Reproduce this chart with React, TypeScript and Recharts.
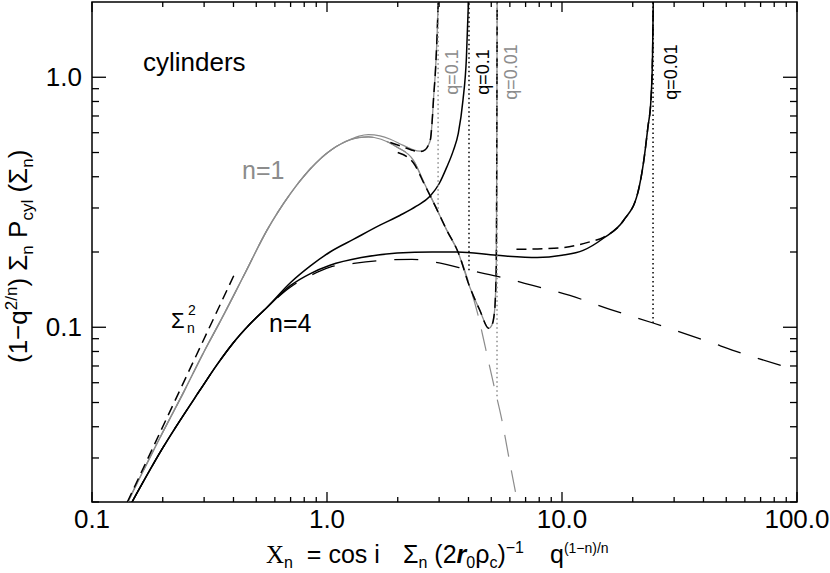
import { LineChart, Line, XAxis, YAxis, ReferenceArea } from "recharts";

type Pt = [number, number];

// ---- data (x = X_n, y = scaled probability) ----
const n1Rise: Pt[] = [
  [0.142, 0.02], [0.2, 0.038], [0.244, 0.0544], [0.3, 0.08], [0.354, 0.107],
  [0.45, 0.166], [0.555, 0.244], [0.62, 0.29], [0.7, 0.343], [0.768, 0.385],
  [0.83, 0.42], [0.9, 0.455], [0.98, 0.49], [1.06, 0.518], [1.15, 0.542], [1.25, 0.562],
];
const n1q01Tail: Pt[] = [
  [1.37, 0.582], [1.5, 0.59], [1.68, 0.583], [1.86, 0.565], [2.1, 0.535], [2.3, 0.515],
  [2.49, 0.506], [2.62, 0.514], [2.7, 0.535], [2.76, 0.57], [2.8, 0.66], [2.84, 0.82],
  [2.9, 1.1], [2.95, 1.6], [2.98, 2.2], [2.99, 2.6],
];
const n1SharedDrop: Pt[] = [
  [1.37, 0.574], [1.5, 0.578], [1.7, 0.565], [1.99, 0.525], [2.33, 0.466], [2.6, 0.375],
  [2.9, 0.303], [3.23, 0.245], [3.61, 0.2],
];
const n1q001End: Pt[] = [
  [4.05, 0.145], [4.47, 0.117], [4.88, 0.099], [5.03, 0.102], [5.13, 0.11],
  [5.2, 0.128], [5.25, 0.174], [5.27, 0.32], [5.285, 0.8], [5.3, 2.6],
];
const n1AsymEnd: Pt[] = [
  [4.05, 0.146], [4.37, 0.114], [4.72, 0.083], [5.1, 0.06], [5.55, 0.0425],
  [6.0, 0.0287], [6.46, 0.02], [6.6, 0.018],
];
const n1q01Approx: Pt[] = [
  [1.86, 0.548], [2.1, 0.527], [2.3, 0.511], [2.49, 0.504], [2.62, 0.513], [2.7, 0.535],
  [2.76, 0.57], [2.8, 0.66], [2.84, 0.82], [2.9, 1.1], [2.95, 1.6], [2.98, 2.2], [2.99, 2.6],
];
const n1q001ApproxStart: Pt[] = [
  [2.0, 0.5], [2.33, 0.455], [2.6, 0.372], [2.9, 0.303], [3.23, 0.245], [3.61, 0.2],
];

const n4Rise: Pt[] = [
  [0.148, 0.02], [0.2, 0.0329], [0.288, 0.056], [0.34, 0.0707], [0.398, 0.0863],
  [0.47, 0.103], [0.555, 0.12],
];
const n4q01Tail: Pt[] = [
  [0.7, 0.151], [0.85, 0.176], [1.03, 0.2], [1.3, 0.225], [1.68, 0.256], [2.04, 0.28],
  [2.4, 0.305], [2.75, 0.335], [3.0, 0.375], [3.23, 0.436], [3.45, 0.51], [3.62, 0.597],
  [3.79, 0.81], [3.92, 1.2], [3.99, 1.9], [4.03, 2.6],
];
const n4q001Flat: Pt[] = [
  [0.7, 0.147], [0.85, 0.164], [1.03, 0.177], [1.4, 0.19], [1.99, 0.198], [2.8, 0.2],
  [3.58, 0.2], [5.27, 0.194], [7.84, 0.19], [10, 0.194], [12.3, 0.203], [15, 0.227],
];
const n4q001Up: Pt[] = [
  [18.3, 0.268], [21, 0.344], [22.3, 0.466], [23.2, 0.631], [23.9, 0.81],
  [24.3, 1.28], [24.45, 2.0], [24.5, 2.6],
];
const n4q001ApproxStart: Pt[] = [
  [6.4, 0.205], [8.3, 0.206], [10, 0.208], [11.6, 0.213], [13, 0.219], [15, 0.229],
];
const n4AsymTail: Pt[] = [
  [0.7, 0.145], [0.85, 0.161], [1.03, 0.174], [1.3, 0.18], [1.7, 0.185], [2.3, 0.187],
  [3.0, 0.181], [4.05, 0.169], [5.6, 0.158], [7.5, 0.147], [10.8, 0.134], [16, 0.118],
  [24.4, 0.104], [40, 0.089], [60, 0.078], [100, 0.0673],
];
const sigmaSq: Pt[] = [[0.1414, 0.02], [0.41, 0.168]];

// vertical asymptotes (dotted)
const qGray01: Pt[] = [[2.97, 0.298], [2.97, 2.6]];
const qBlack01: Pt[] = [[4.02, 0.169], [4.02, 2.6]];
const qGray001: Pt[] = [[5.29, 0.053], [5.29, 2.6]];
const qBlack001: Pt[] = [[24.4, 0.104], [24.4, 2.6]];

const xTicks = [
  0.1, 0.2, 0.3, 0.4, 0.5, 0.6, 0.7, 0.8, 0.9,
  1, 2, 3, 4, 5, 6, 7, 8, 9,
  10, 20, 30, 40, 50, 60, 70, 80, 90, 100,
];
const xMajors = [0.1, 1, 10, 100];
const xMajorLabels = ["0.1", "1.0", "10.0", "100.0"];
const yTicks = [
  0.02, 0.03, 0.04, 0.05, 0.06, 0.07, 0.08, 0.09,
  0.1, 0.2, 0.3, 0.4, 0.5, 0.6, 0.7, 0.8, 0.9, 1,
];
const yMajors = [0.1, 1];
const yMajorLabels = ["0.1", "1.0"];

// ---- layout ----
const W = 830;
const H = 573;
const PLOT_L = 92;
const PLOT_R = 797;
const PLOT_T = 2;
const PLOT_B = 502;
const FONT = "'Liberation Sans', Arial, Helvetica, sans-serif";
const SERIF = "'Liberation Serif', 'Times New Roman', serif";
const GRAY = "#8c8c8c";

const toRows = (pts: Pt[]) => pts.map(([x, y]) => ({ x, y }));

function XTick(props: any) {
  const { x, payload } = props;
  const i = xMajors.indexOf(payload.value);
  const len = i >= 0 ? 10 : 5;
  return (
    <g>
      <line x1={x} x2={x} y1={PLOT_B} y2={PLOT_B - len} stroke="#000" strokeWidth={1.3} />
      <line x1={x} x2={x} y1={PLOT_T} y2={PLOT_T + len} stroke="#000" strokeWidth={1.3} />
      {i >= 0 && (
        <text x={x} y={528} textAnchor="middle" fontSize={26} fontFamily={FONT} fill="#000">
          {xMajorLabels[i]}
        </text>
      )}
    </g>
  );
}

function YTick(props: any) {
  const { y, payload } = props;
  const i = yMajors.indexOf(payload.value);
  const len = i >= 0 ? 14 : 7;
  return (
    <g>
      <line x1={PLOT_L} x2={PLOT_L + len} y1={y} y2={y} stroke="#000" strokeWidth={1.3} />
      <line x1={PLOT_R} x2={PLOT_R - len} y1={y} y2={y} stroke="#000" strokeWidth={1.3} />
      {i >= 0 && (
        <text x={82} y={y + 9} textAnchor="end" fontSize={26} fontFamily={FONT} fill="#000">
          {yMajorLabels[i]}
        </text>
      )}
    </g>
  );
}

function Annotations() {
  const qLabel = (x: number, text: string, color: string) => (
    <text
      x={x}
      y={72}
      transform={`rotate(-90 ${x} 72)`}
      textAnchor="middle"
      fontSize={18}
      fontFamily={FONT}
      fill={color}
    >
      {text}
    </text>
  );
  return (
    <svg
      width={W}
      height={H}
      style={{ position: "absolute", left: 0, top: 0, pointerEvents: "none" }}
    >
      <text x={143} y={71} fontSize={26} fontFamily={FONT} fill="#000">cylinders</text>
      <text x={242} y={179} fontSize={25} fontFamily={FONT} fill={GRAY}>n=1</text>
      <text x={269} y={332} fontSize={25} fontFamily={FONT} fill="#000">n=4</text>
      <text x={171} y={328} fontSize={22} fontFamily={FONT} fill="#000">Σ</text>
      <text x={188} y={315} fontSize={14} fontFamily={FONT} fill="#000">2</text>
      <text x={187} y={333} fontSize={14} fontFamily={FONT} fill="#000">n</text>
      {qLabel(458, "q=0.1", GRAY)}
      {qLabel(489, "q=0.1", "#000")}
      {qLabel(517, "q=0.01", GRAY)}
      {qLabel(677, "q=0.01", "#000")}

      <text
        x={27}
        y={363}
        transform="rotate(-90 27 363)"
        fontSize={26}
        fontFamily={FONT}
        fill="#000"
        style={{ whiteSpace: "pre" }}
      >
        <tspan>(1−q</tspan>
        <tspan dy={-10} fontSize={17}>2/n</tspan>
        <tspan dy={10}>) Σ</tspan>
        <tspan dy={6} fontSize={17}>n</tspan>
        <tspan dy={-6}> P</tspan>
        <tspan dy={6} fontSize={17}>cyl</tspan>
        <tspan dy={-6}> (Σ</tspan>
        <tspan dy={6} fontSize={17}>n</tspan>
        <tspan dy={-6}>)</tspan>
      </text>

      <text y={563} fontSize={25} fontFamily={FONT} fill="#000" style={{ whiteSpace: "pre" }}>
        <tspan x={266} fontFamily={SERIF}>X</tspan>
        <tspan dy={5} fontSize={16}>n</tspan>
        <tspan dy={-5}>  = cos i</tspan>
        <tspan x={403}>Σ</tspan>
        <tspan dy={5} fontSize={16}>n</tspan>
        <tspan dy={-5}> (2</tspan>
        <tspan fontWeight="bold" fontStyle="italic">r</tspan>
        <tspan dy={5} fontSize={16}>0</tspan>
        <tspan dy={-5}>ρ</tspan>
        <tspan dy={5} fontSize={16}>c</tspan>
        <tspan dy={-5}>)</tspan>
        <tspan dy={-10} fontSize={16}>−1</tspan>
        <tspan x={550} dy={10}>q</tspan>
        <tspan dy={-10} fontSize={14}>(1−n)/n</tspan>
      </text>
    </svg>
  );
}

export default function App() {
  const curves = [
    { key: "n1asym", pts: [...n1Rise, ...n1SharedDrop, ...n1AsymEnd], color: GRAY, w: 1.2, dash: "22 14" },
    { key: "n1q01", pts: [...n1Rise, ...n1q01Tail], color: GRAY, w: 1.3 },
    { key: "n1q001", pts: [...n1Rise, ...n1SharedDrop, ...n1q001End], color: GRAY, w: 1.3 },
    { key: "n4asym", pts: [...n4Rise, ...n4AsymTail], color: "#000", w: 1.3, dash: "24 18" },
    { key: "n4q01", pts: [...n4Rise, ...n4q01Tail], color: "#000", w: 1.5 },
    { key: "n4q001", pts: [...n4Rise, ...n4q001Flat, ...n4q001Up], color: "#000", w: 1.5 },
    { key: "n1q01a", pts: n1q01Approx, color: "#000", w: 1.5, dash: "10 6" },
    { key: "n1q001a", pts: [...n1q001ApproxStart, ...n1q001End], color: "#000", w: 1.5, dash: "10 6" },
    { key: "n4q001a", pts: [...n4q001ApproxStart, ...n4q001Up], color: "#000", w: 1.5, dash: "10 6" },
    { key: "sig2", pts: sigmaSq, color: "#000", w: 1.5, dash: "10 6", linear: true },
    { key: "vg1", pts: qGray01, color: GRAY, w: 1.5, dash: "1.5 3", linear: true },
    { key: "vb1", pts: qBlack01, color: "#000", w: 1.5, dash: "1.5 3", linear: true },
    { key: "vg2", pts: qGray001, color: GRAY, w: 1.5, dash: "1.5 3", linear: true },
    { key: "vb2", pts: qBlack001, color: "#000", w: 1.5, dash: "1.5 3", linear: true },
  ];

  return (
    <div style={{ position: "absolute", left: 0, top: 0, width: W, height: H, background: "#fff" }}>
      <LineChart
        width={W}
        height={H}
        margin={{ top: PLOT_T, right: W - PLOT_R, bottom: 0, left: 0 }}
      >
        <XAxis
          dataKey="x"
          type="number"
          scale="log"
          domain={[0.1, 100]}
          allowDataOverflow
          ticks={xTicks}
          interval={0}
          tick={<XTick />}
          tickLine={false}
          axisLine={false}
          height={H - PLOT_B}
        />
        <YAxis
          dataKey="y"
          type="number"
          scale="log"
          domain={[0.02, 2]}
          allowDataOverflow
          ticks={yTicks}
          interval={0}
          tick={<YTick />}
          tickLine={false}
          axisLine={false}
          width={PLOT_L}
        />
        {curves.map((c) => (
          <Line
            key={c.key}
            data={toRows(c.pts)}
            dataKey="y"
            type={c.linear ? "linear" : "monotone"}
            stroke={c.color}
            strokeWidth={c.w}
            strokeDasharray={c.dash}
            dot={false}
            activeDot={false}
            isAnimationActive={false}
          />
        ))}
        <ReferenceArea
          x1={0.1}
          x2={100}
          y1={0.02}
          y2={2}
          fill="none"
          fillOpacity={0}
          stroke="#000"
          strokeWidth={1.5}
          ifOverflow="visible"
        />
      </LineChart>
      <Annotations />
    </div>
  );
}
